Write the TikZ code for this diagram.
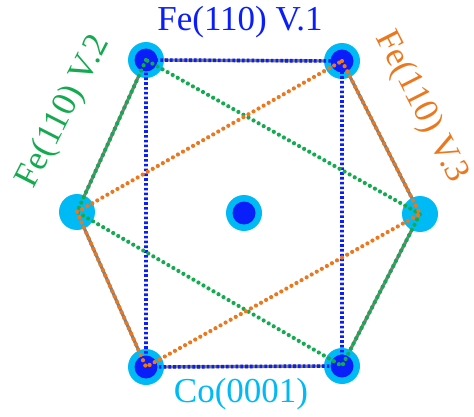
\documentclass[tikz,border=0pt]{standalone}
\usepackage{fontspec}
\setmainfont{Liberation Serif}
\definecolor{cyanA}{RGB}{0,186,245}
\definecolor{blueA}{RGB}{10,30,250}
\definecolor{greenA}{RGB}{20,170,80}
\definecolor{orangeA}{RGB}{235,120,30}
\definecolor{grayA}{RGB}{128,128,128}
\begin{document}
\begin{tikzpicture}[x=1pt,y=-1pt,
  outer/.style={circle,fill=cyanA,minimum size=36pt,inner sep=0pt},
  inner/.style={circle,fill=blueA,minimum size=23pt,inner sep=0pt},
  hexedge/.style={grayA,line width=3.2pt},
  bluedot/.style={blueA,line width=3.6pt,dash pattern=on 2.6pt off 2.2pt},
  gdot/.style={greenA,line width=4.2pt,line cap=round,dash pattern=on 0pt off 5.8pt},
  odot/.style={orangeA,line width=4.2pt,line cap=round,dash pattern=on 0pt off 5.8pt},
  lbl/.style={font=\fontsize{35}{40}\selectfont,inner sep=0pt}]
\useasboundingbox (0,0) rectangle (474,417);
\coordinate (TL) at (146,60);
\coordinate (TR) at (342,61);
\coordinate (L) at (77,212);
\coordinate (R) at (420,214);
\coordinate (BL) at (146,367);
\coordinate (BR) at (342,366);
\coordinate (C) at (244,213);
% hexagon
\draw[hexedge] (TL) -- (TR) -- (R) -- (BR) -- (BL) -- (L) -- cycle;
% atoms
\foreach \p in {TL,TR,BL,BR,C} {
  \node[outer] (o\p) at (\p) {};
  \node[inner] (i\p) at (\p) {};
}
\node[outer] (oL) at (L) {};
\node[outer] (oR) at (R) {};
% V.1 blue rectangle
\draw[bluedot] (TL) -- (TR) -- (BR) -- (BL) -- cycle;
% V.2 green
\draw[gdot] (TL) -- (L) -- (BR) -- (R) -- cycle;
% V.3 orange
\draw[odot] (TR) -- (R) -- (BL) -- (L) -- cycle;
% labels
\node[lbl,text=blueA] (t1) at (240,22) {Fe(110) V.1};
\node[lbl,text=cyanA] (t0) at (241,394) {Co(0001)};
\node[lbl,text=greenA,rotate=63] (t2) at (64,112) {Fe(110) V.2};
\node[lbl,text=orangeA,rotate=-63] (t3) at (421,107) {Fe(110) V.3};
\end{tikzpicture}
\end{document}
